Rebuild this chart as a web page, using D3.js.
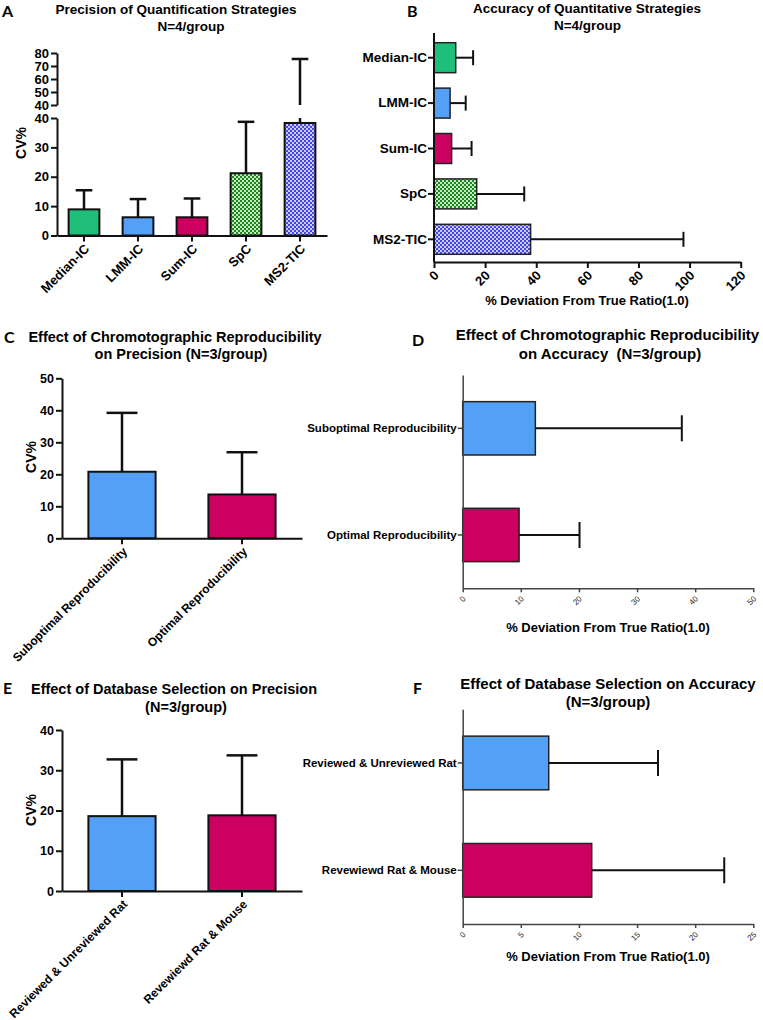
<!DOCTYPE html>
<html><head><meta charset="utf-8">
<script src="https://cdn.jsdelivr.net/npm/d3@7"></script>
<style>
body{margin:0;background:#fff;}
svg text{font-family:"Liberation Sans",Arial,sans-serif;}
</style>
</head><body><script>
// ---------------- data ----------------
const strategyCats = ["Median-IC","LMM-IC","Sum-IC","SpC","MS2-TIC"];
const precisionCV  = [8.9, 6.2, 6.2, 21.2, 38.3];
const precisionSD  = [6.5, 6.2, 6.4, 17.5, 37.1];
const accuracyDev  = [8.5, 6.3, 6.9, 16.7, 37.8];
const accuracySD   = [6.8, 6.1, 7.8, 18.6, 59.8];

const chromCats   = ["Suboptimal Reproducibility","Optimal Reproducibility"];
const chromCV     = [20.8, 13.7];
const chromCVSD   = [18.4, 13.2];
const chromDev    = [12.5, 9.7];
const chromDevSD  = [25.2, 10.4];

const dbCats   = ["Reviewed & Unreviewed Rat","Revewiewd Rat & Mouse"];
const dbCV     = [18.6, 18.8];
const dbCVSD   = [14.1, 14.9];
const dbDev    = [7.4, 11.1];
const dbDevSD  = [9.4, 11.4];

const ticksALower = [0,10,20,30,40];
const ticksAUpper = [40,50,60,70,80];
const ticksB = [0,20,40,60,80,100,120];
const ticksC = [0,10,20,30,40,50];
const ticksD = [0,10,20,30,40,50];
const ticksE = [0,10,20,30,40];
const ticksF = [0,5,10,15,20,25];

// ---------------- styles ----------------
const GREEN = "#1fbf7b", BLUE = "#55a0f7", CRIMSON = "#cc0060";
const strategyFills = [GREEN, BLUE, CRIMSON, "url(#chkGreen)", "url(#chkBlue)"];
const twoFills = [BLUE, CRIMSON];

const svg = d3.select("body").append("svg").attr("width",763).attr("height",1020);
const defs = svg.append("defs");
function checker(id, dark, light, s){
  const p = defs.append("pattern").attr("id",id).attr("patternUnits","userSpaceOnUse")
    .attr("width",2*s).attr("height",2*s);
  p.append("rect").attr("width",2*s).attr("height",2*s).attr("fill",light);
  p.append("rect").attr("width",s).attr("height",s).attr("fill",dark);
  p.append("rect").attr("x",s).attr("y",s).attr("width",s).attr("height",s).attr("fill",dark);
}
checker("chkGreen","#178a17","#c9e6c9",2);
checker("chkBlue","#4646ea","#cacaf6",2);

function styleAxis(g, color, w, fs, fw, tc){
  g.select(".domain").attr("stroke",color).attr("stroke-width",w);
  g.selectAll(".tick line").attr("stroke",color).attr("stroke-width",w);
  g.selectAll(".tick text").attr("fill",tc||"#000").style("font-size",fs+"px").style("font-weight",fw);
}
function rotateLabels(g, dx, dy){
  g.selectAll(".tick text").attr("x",0).attr("y",0).attr("dy","0.35em")
    .attr("text-anchor","end").attr("transform",`translate(${dx},${dy}) rotate(-45)`);
}
function text(x,y,str,fs,opts={}){
  const t = svg.append("text").attr("x",x).attr("y",y).text(str)
    .style("font-size",fs+"px").style("font-weight",opts.weight||"bold")
    .attr("text-anchor",opts.anchor||"middle").attr("fill","#000")
    .style("white-space","pre");
  if(opts.family) t.style("font-family",opts.family);
  if(opts.rotate) t.attr("transform",`rotate(${opts.rotate},${x},${y})`);
  return t;
}
function letter(x,y,s){ text(x,y,s,16,{anchor:"start",family:"Lato, 'Open Sans', sans-serif"}); }

function seg(g,x1,y1,x2,y2,w){
  g.append("line").attr("x1",x1).attr("x2",x2).attr("y1",y1).attr("y2",y2)
    .attr("stroke","#111").attr("stroke-width",w);
}

// ================= Panel A =================
(function(){
  const g = svg.append("g");
  const x = d3.scaleBand().domain(strategyCats).range([57,327]).paddingInner(0.43).paddingOuter(0.215);
  const yLow = d3.scaleLinear().domain([0,40]).range([235.5,118]);
  const yUp  = d3.scaleLinear().domain([40,80]).range([105,53]);
  const gy1 = g.append("g").attr("transform","translate(57,0)")
    .call(d3.axisLeft(yLow).tickValues(ticksALower).tickSize(6).tickPadding(2).tickSizeOuter(0));
  styleAxis(gy1,"#111",2,13,"bold");
  const gy2 = g.append("g").attr("transform","translate(57,0)")
    .call(d3.axisLeft(yUp).tickValues(ticksAUpper).tickSize(6).tickPadding(2).tickSizeOuter(0));
  styleAxis(gy2,"#111",2,13,"bold");
  g.selectAll("rect.bar").data(strategyCats).join("rect").attr("class","bar")
    .attr("x",d=>x(d)).attr("width",x.bandwidth())
    .attr("y",(d,i)=>yLow(precisionCV[i])).attr("height",(d,i)=>yLow(0)-yLow(precisionCV[i]))
    .attr("fill",(d,i)=>strategyFills[i]).attr("stroke","#111").attr("stroke-width",2);
  strategyCats.forEach((c,i)=>{
    const cx = x(c)+x.bandwidth()/2, top = precisionCV[i]+precisionSD[i];
    const hw = x.bandwidth()*0.27;
    if(top<=40){
      seg(g,cx,yLow(precisionCV[i]),cx,yLow(top),2.5);
      seg(g,cx-hw,yLow(top),cx+hw,yLow(top),2.5);
    } else {
      seg(g,cx,yLow(precisionCV[i]),cx,yLow(40),2.5);
      seg(g,cx,yUp(40),cx,yUp(top),2.5);
      seg(g,cx-hw,yUp(top),cx+hw,yUp(top),2.5);
    }
  });
  const gx = g.append("g").attr("transform","translate(0,235.5)")
    .call(d3.axisBottom(x).tickSize(6).tickSizeOuter(0));
  styleAxis(gx,"#111",2,13,"bold");
  rotateLabels(gx,3,11);
  text(21,143,"CV%",14,{rotate:-90}).attr("dy","0.35em");
  text(176,14,"Precision of Quantification Strategies",13.5);
  text(191,31,"N=4/group",13.5);
  letter(2,17,"A");
})();

// ================= Panel B =================
(function(){
  const g = svg.append("g");
  const y = d3.scaleBand().domain(strategyCats).range([35,262]).paddingInner(0.34).paddingOuter(0.17);
  const x = d3.scaleLinear().domain([0,120]).range([434,740.7]);
  g.selectAll("rect.bar").data(strategyCats).join("rect").attr("class","bar")
    .attr("x",x(0)).attr("y",d=>y(d)).attr("height",y.bandwidth())
    .attr("width",(d,i)=>x(accuracyDev[i])-x(0))
    .attr("fill",(d,i)=>strategyFills[i]).attr("stroke","#222").attr("stroke-width",1.5);
  strategyCats.forEach((c,i)=>{
    const cy = y(c)+y.bandwidth()/2, r = accuracyDev[i]+accuracySD[i];
    seg(g,x(accuracyDev[i]),cy,x(r),cy,2);
    seg(g,x(r),cy-7.5,x(r),cy+7.5,2);
  });
  const gy = g.append("g").attr("transform","translate(434,0)")
    .call(d3.axisLeft(y).tickSize(6).tickPadding(1).tickSizeOuter(0));
  gy.select(".domain").attr("d","M0,33V262");
  styleAxis(gy,"#111",2,13.5,"bold");
  const gx = g.append("g").attr("transform","translate(0,262)")
    .call(d3.axisBottom(x).tickValues(ticksB).tickSize(6).tickSizeOuter(0));
  styleAxis(gx,"#111",2,13,"bold");
  rotateLabels(gx,2,11);
  text(587,305,"% Deviation From True Ratio(1.0)",13);
  text(587,13,"Accuracy of Quantitative Strategies",13.5);
  text(587.5,30,"N=4/group",13.5);
  letter(407,17,"B");
})();

// ============ vertical two-bar panels (C, E) ============
function vPanel(cats, vals, sds, ticks, yTop, y0, yMax, titles, letterPos, cvY){
  const g = svg.append("g");
  const x = d3.scaleBand().domain(cats).range([62,302]).paddingInner(0.44).paddingOuter(0.22);
  const y = d3.scaleLinear().domain([0,yMax]).range([y0,yTop]);
  const gy = g.append("g").attr("transform","translate(62,0)")
    .call(d3.axisLeft(y).tickValues(ticks).tickSize(6).tickPadding(2).tickSizeOuter(0));
  styleAxis(gy,"#111",2,12.5,"bold");
  g.selectAll("rect.bar").data(cats).join("rect").attr("class","bar")
    .attr("x",d=>x(d)).attr("width",x.bandwidth())
    .attr("y",(d,i)=>y(vals[i])).attr("height",(d,i)=>y(0)-y(vals[i]))
    .attr("fill",(d,i)=>twoFills[i]).attr("stroke","#111").attr("stroke-width",2);
  cats.forEach((c,i)=>{
    const cx = x(c)+x.bandwidth()/2, top = vals[i]+sds[i], hw = x.bandwidth()*0.23;
    seg(g,cx,y(vals[i]),cx,y(top),2.5);
    seg(g,cx-hw,y(top),cx+hw,y(top),2.5);
  });
  const gx = g.append("g").attr("transform",`translate(0,${y0})`)
    .call(d3.axisBottom(x).tickSize(6).tickSizeOuter(0));
  styleAxis(gx,"#111",2,12,"bold");
  rotateLabels(gx,3,11);
  text(31,cvY,"CV%",14,{rotate:-90}).attr("dy","0.35em");
  titles.forEach(t=>text(t[0],t[1],t[2],14.5));
  letter(letterPos[0],letterPos[1],letterPos[2]);
}
vPanel(chromCats, chromCV, chromCVSD, ticksC, 378.3, 538.3, 50,
  [[175,342,"Effect of Chromotographic Reproducibility"],[181,359,"on Precision (N=3/group)"]],
  [4,343,"C"], 457);
vPanel(dbCats, dbCV, dbCVSD, ticksE, 730, 891, 40,
  [[174,694,"Effect of Database Selection on Precision"],[186,712,"(N=3/group)"]],
  [3,694,"E"], 810);

// ============ horizontal two-bar panels (D, F) ============
function hPanel(cats, vals, sds, ticks, xMax, yTop, y0, titles, letterPos, xTitleY){
  const g = svg.append("g");
  const y = d3.scaleBand().domain(cats).range([yTop,y0]).paddingInner(0.5).paddingOuter(0.25);
  const x = d3.scaleLinear().domain([0,xMax]).range([462.7,753.3]);
  g.selectAll("rect.bar").data(cats).join("rect").attr("class","bar")
    .attr("x",x(0)).attr("y",d=>y(d)).attr("height",y.bandwidth())
    .attr("width",(d,i)=>x(vals[i])-x(0))
    .attr("fill",(d,i)=>twoFills[i]).attr("stroke","#222").attr("stroke-width",1.5);
  cats.forEach((c,i)=>{
    const cy = y(c)+y.bandwidth()/2, r = vals[i]+sds[i];
    seg(g,x(vals[i]),cy,x(r),cy,2);
    seg(g,x(r),cy-13,x(r),cy+13,2);
  });
  const gy = g.append("g").attr("transform","translate(462.7,0)")
    .call(d3.axisLeft(y).tickSize(5).tickPadding(1).tickSizeOuter(0));
  styleAxis(gy,"#444",1.5,11.5,"bold");
  const gx = g.append("g").attr("transform",`translate(0,${y0})`)
    .call(d3.axisBottom(x).tickValues(ticks).tickSize(4).tickSizeOuter(0));
  styleAxis(gx,"#444",1.5,8,"normal","#222");
  rotateLabels(gx,1,9);
  text(608,xTitleY,"% Deviation From True Ratio(1.0)",13);
  titles.forEach(t=>text(t[0],t[1],t[2],15));
  letter(letterPos[0],letterPos[1],letterPos[2]);
}
hPanel(chromCats, chromDev, chromDevSD, ticksD, 50, 375, 588.3,
  [[607.5,340,"Effect of Chromotographic Reproducibility"],[610,359,"on Accuracy  (N=3/group)"]],
  [412,346,"D"], 632);
hPanel(dbCats, dbDev, dbDevSD, ticksF, 25, 709.3, 924,
  [[608,689,"Effect of Database Selection on Accuracy"],[608,707,"(N=3/group)"]],
  [413,694,"F"], 961);
</script></body></html>
